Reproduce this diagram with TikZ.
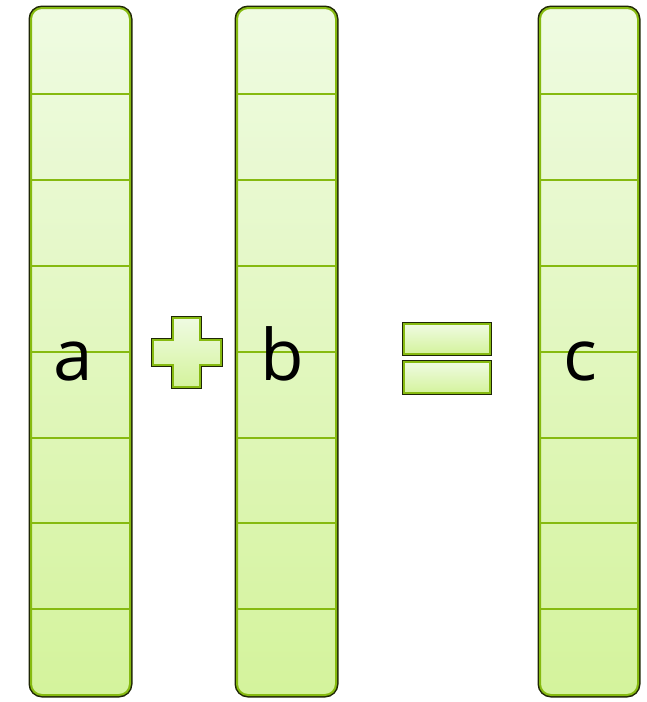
\documentclass[tikz,border=0pt]{standalone}
\usepackage{fontspec}
\setmainfont{Open Sans}
\usepackage{tikz}
\usetikzlibrary{calc}
\definecolor{edge}{HTML}{1E2606}
\definecolor{lime}{HTML}{86BA10}
\definecolor{topc}{HTML}{EFFBE2}
\definecolor{botc}{HTML}{D4F39C}
\tikzset{
  col/.style={preaction={draw=edge, line width=5pt}, draw=lime, line width=2pt,
              top color=topc, bottom color=botc, rounded corners=11pt,
              minimum width=99pt, minimum height=687pt, inner sep=0pt, outer sep=0pt},
  sym/.style={preaction={draw=edge, line width=4.4pt}, draw=lime, line width=1.8pt,
              top color=topc, bottom color=botc},
  bar/.style={sym, inner sep=0pt, outer sep=0pt, minimum width=86pt, minimum height=30pt},
  cellline/.style={draw=lime, line width=2pt},
  lbl/.style={anchor=base, inner sep=0pt, font=\fontsize{71}{80}\selectfont},
}
\begin{document}
\begin{tikzpicture}[x=1pt, y=-1pt]
  \useasboundingbox (0,0) rectangle (647,702);
  % the three vectors
  \node[col] (ca) at (80.5,351.5) {};
  \node[col] (cb) at (286.5,351.5) {};
  \node[col, minimum width=98pt] (cc) at (589,351.5) {};
  \foreach \v in {ca,cb,cc}
    \foreach \i in {94,180,266,352,438,523,609}
      \draw[cellline] (\v.west |- 0,\i) -- (\v.east |- 0,\i);
  % element labels
  \node[lbl] (la) at (73,380) {a};
  \node[lbl] (lb) at (282,380) {b};
  \node[lbl] (lc) at (580,380) {c};
  % plus sign
  \draw[sym] (173,318) -- (200,318) -- (200,340) -- (221,340) -- (221,365) -- (200,365)
    -- (200,387) -- (173,387) -- (173,365) -- (153,365) -- (153,340) -- (173,340) -- cycle;
  % equals sign
  \node[bar] (eqt) at (447,339) {};
  \node[bar, minimum height=31pt] (eqb) at (447,377.5) {};
\end{tikzpicture}
\end{document}
